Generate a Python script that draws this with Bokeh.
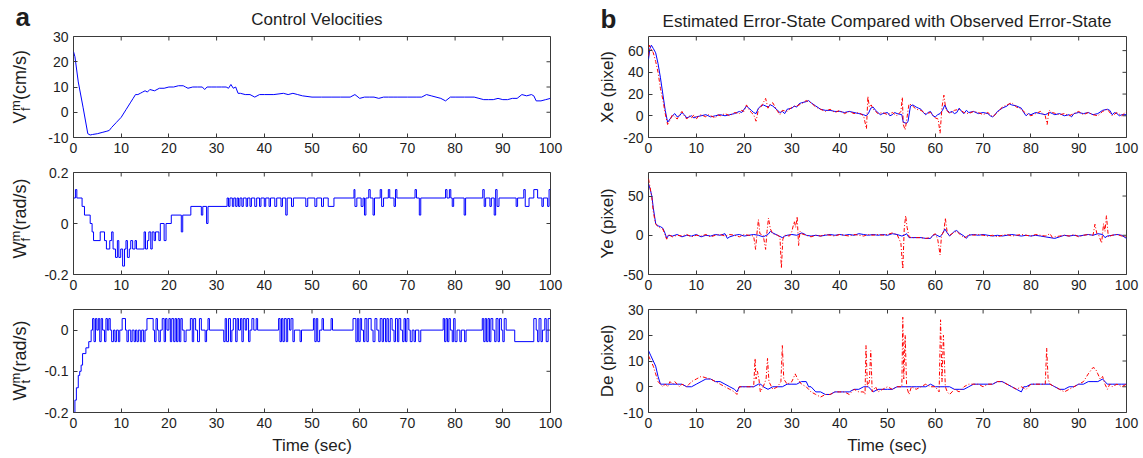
from math import pi
from bokeh.plotting import figure
from bokeh.models import Range1d, FixedTicker, Label
from bokeh.layouts import column, row
from bokeh.embed import file_html
from bokeh.resources import INLINE

# ---------------- data ----------------
TIME_TICKS = [0, 10, 20, 30, 40, 50, 60, 70, 80, 90, 100]
VF_TICKS = [-10, 0, 10, 20, 30]
WF_TICKS = [-0.2, 0, 0.2]
WT_TICKS = [-0.2, -0.1, 0]
XE_TICKS = [-20, 0, 20, 40, 60]
YE_TICKS = [-50, 0, 50]
DE_TICKS = [-10, 0, 10, 20, 30]

# forward control velocity V_f^m (cm/s)
VF = [(0, 24), (0.3, 22), (1, 12), (2, 2), (3, -8.5), (3.5, -9), (4, -8.8), (5, -8.5), (6, -8), (7, -7.5),
      (7.5, -7.2), (8, -6), (9, -4), (10, -2), (11, 1), (12, 4), (12.5, 5.5), (13, 7), (13.5, 7), (14, 7.5),
      (14.5, 8), (15, 8.5), (15.5, 8), (16, 9), (17, 8.5), (18, 9.5), (19, 9.5), (20, 10), (21, 10), (22, 10.5),
      (23, 10.5), (23.5, 10), (24, 9.5), (25, 10), (26, 10), (27, 10), (27.5, 9), (28, 10), (29, 10), (30, 10),
      (31, 10), (32, 10), (32.5, 9.5), (33, 11), (33.5, 9.5), (34, 10), (34.5, 7.5), (35, 7.5), (36, 7), (37, 7),
      (38, 6), (39, 7), (40, 7), (42, 7), (44, 7.5), (45, 7), (46, 7.5), (47, 7), (48, 6.5), (50, 6), (52, 6),
      (54, 6), (56, 6), (58, 6), (59, 7), (60, 5.5), (61, 6), (62, 6), (63, 6), (64, 5.5), (65, 6), (66, 6),
      (67, 6), (68, 6), (70, 6), (72, 6), (73, 6), (74, 7), (75, 6.5), (76, 6), (77, 5.5), (78, 4.5), (79, 6),
      (80, 6), (82, 6), (84, 6), (85, 5.5), (86, 5), (87, 5), (88, 5), (89, 5.5), (90, 5), (91, 5), (92, 5.5),
      (93, 5.5), (94, 7), (95, 6.5), (96, 7), (96.5, 6.5), (97, 4.5), (98, 4.5), (99, 5), (100, 5.5)]

# forward angular velocity W_f^m (rad/s), stair values
WF = [(0, 0.1), (0.4, 0.133), (0.7, 0.1), (1.8, 0.067), (2.3, 0.033), (3.5, 0.0), (3.9, -0.033), (4.2, -0.067),
      (5.6, -0.033), (6.5, -0.067), (6.9, -0.1), (7.6, -0.067), (8.0, -0.033), (8.3, -0.1), (8.8, -0.133),
      (9.2, -0.067), (9.5, -0.133), (9.9, -0.1), (10.3, -0.167), (10.7, -0.1), (11.0, -0.067), (11.3, -0.133),
      (11.7, -0.1), (12.0, -0.067), (12.4, -0.1), (12.9, -0.067), (13.2, -0.1), (14.8, -0.033), (15.1, -0.1),
      (15.5, -0.067), (15.8, -0.033), (16.2, -0.1), (16.5, -0.033), (16.9, -0.067), (17.2, -0.033),
      (17.9, -0.067), (18.2, 0.0), (19.0, -0.067), (19.4, 0.0), (20.5, 0.033), (22.6, -0.033), (22.9, 0.033),
      (24.6, 0.067), (26.8, 0.033), (27.1, 0.067), (27.9, 0.0), (28.2, 0.067), (32.2, 0.1), (32.5, 0.067),
      (32.8, 0.1), (33.3, 0.067), (33.6, 0.1), (34.0, 0.067), (34.3, 0.1), (34.6, 0.067), (34.9, 0.1),
      (35.3, 0.067), (35.6, 0.1), (36.2, 0.067), (36.5, 0.1), (37.0, 0.067), (37.3, 0.1), (38.0, 0.067),
      (38.4, 0.1), (39.0, 0.067), (39.3, 0.1), (40.0, 0.067), (40.3, 0.1), (41.0, 0.067), (41.3, 0.1),
      (42.2, 0.067), (42.6, 0.1), (43.5, 0.067), (43.8, 0.1), (44.5, 0.033), (44.8, 0.1), (45.7, 0.067),
      (46.1, 0.1), (48.7, 0.067), (49.1, 0.1), (50.6, 0.067), (51.0, 0.1), (52.0, 0.067), (52.4, 0.1),
      (53.4, 0.067), (54.6, 0.1), (58.8, 0.133), (59.0, 0.067), (59.4, 0.1), (60.3, 0.067), (60.7, 0.1),
      (61.0, 0.033), (61.3, 0.1), (61.9, 0.133), (62.2, 0.1), (62.8, 0.033), (63.1, 0.1), (64.3, 0.133),
      (64.6, 0.067), (65.0, 0.1), (66.0, 0.133), (66.3, 0.1), (67.2, 0.067), (67.5, 0.133), (67.8, 0.1),
      (71.6, 0.133), (71.9, 0.1), (72.5, 0.033), (72.8, 0.1), (78.0, 0.133), (78.3, 0.1), (78.8, 0.133),
      (79.1, 0.1), (79.4, 0.067), (79.7, 0.1), (81.9, 0.033), (82.2, 0.1), (85.8, 0.133), (86.1, 0.067),
      (86.4, 0.1), (87.3, 0.067), (87.6, 0.1), (88.2, 0.033), (88.5, 0.133), (88.8, 0.067), (89.2, 0.1),
      (92.8, 0.067), (93.1, 0.1), (94.4, 0.133), (94.7, 0.067), (95.5, 0.1), (96.5, 0.133), (97.3, 0.1),
      (98.2, 0.067), (98.5, 0.1), (99.4, 0.067), (99.7, 0.133), (100, 0.133)]

# turning angular velocity W_t^m (rad/s), stair values
WT = [(0, -0.2), (0.3, -0.17), (0.6, -0.14), (1.0, -0.11), (1.3, -0.1), (1.6, -0.085), (1.9, -0.057),
      (2.6, -0.043), (3.2, -0.028), (3.7, 0), (4.0, 0.028), (4.3, -0.028), (4.6, 0.028), (4.9, 0), (5.2, 0.028),
      (5.5, -0.028), (5.8, 0.028), (6.1, 0), (6.5, -0.028), (6.8, 0.028), (7.1, 0), (7.4, 0.028), (7.7, 0),
      (8.0, -0.028), (8.4, 0), (8.7, -0.028), (9.0, 0), (9.4, -0.028), (9.7, 0), (10.2, 0.028), (10.9, 0),
      (11.2, -0.028), (11.5, 0), (12.0, -0.028), (12.3, 0), (12.7, -0.028), (13.0, 0), (13.3, -0.028),
      (13.6, 0), (14.0, -0.028), (14.3, 0), (14.7, -0.028), (15.0, 0), (15.4, 0.028), (16.7, 0), (17.0, -0.028),
      (17.3, 0.028), (17.6, 0), (17.9, -0.028), (18.2, 0), (18.6, 0.028), (19.0, -0.028), (19.3, 0.028),
      (19.6, 0), (20.0, 0.028), (20.3, -0.028), (20.6, 0.028), (21.0, -0.028), (21.3, 0.028), (21.6, -0.028),
      (21.9, 0.028), (22.2, -0.028), (22.5, 0.028), (22.8, 0), (23.2, -0.028), (23.6, 0), (24.5, 0.028),
      (24.9, -0.028), (25.2, 0.028), (25.6, 0), (26.0, -0.028), (26.4, 0.028), (26.8, 0), (27.6, -0.028),
      (27.9, 0), (28.2, 0.028), (28.5, 0), (31.5, -0.028), (31.8, 0.028), (32.1, -0.028), (32.5, 0.028),
      (32.9, -0.028), (33.2, 0), (33.5, 0.028), (34.0, -0.028), (34.3, 0.028), (34.6, 0), (35.0, 0.028),
      (35.3, -0.028), (35.6, 0.028), (36.0, 0), (36.3, 0.028), (36.7, -0.028), (37.0, 0), (37.4, 0.028),
      (37.8, 0), (38.3, 0.028), (38.6, 0), (43.0, 0.028), (43.3, -0.028), (43.6, 0.028), (43.9, -0.028),
      (44.2, 0.028), (44.6, -0.028), (44.9, 0.028), (45.3, 0), (45.6, 0.028), (46.0, -0.028), (46.3, 0),
      (47.5, -0.028), (47.8, 0), (50.3, 0.028), (50.6, -0.028), (50.9, 0.028), (51.2, -0.028), (51.6, 0),
      (52.1, 0.028), (52.4, 0), (54.0, 0.028), (54.3, 0), (58.6, 0.028), (59.2, -0.028), (59.5, 0.028),
      (59.8, -0.028), (60.1, 0.028), (60.4, 0), (60.8, -0.028), (61.1, 0.028), (61.5, -0.028), (61.8, 0.028),
      (62.4, 0), (62.8, -0.028), (63.2, 0.028), (63.6, 0), (64.0, -0.028), (64.3, 0.028), (64.7, -0.028),
      (65.0, 0.028), (65.4, -0.028), (65.7, 0.028), (66.0, -0.028), (66.4, 0.028), (66.8, 0), (67.2, -0.028),
      (67.5, 0.028), (67.9, -0.028), (68.2, 0.028), (68.6, 0), (69.0, -0.028), (69.3, 0.028), (69.6, -0.028),
      (69.9, 0.028), (70.3, 0), (70.6, -0.028), (71.0, 0), (71.4, -0.028), (71.7, 0), (72.4, -0.028), (72.8, 0),
      (77.5, 0.028), (77.8, -0.028), (78.1, 0.028), (78.4, -0.028), (78.7, 0.028), (79.0, 0), (79.4, -0.028),
      (79.7, 0.028), (80.0, -0.028), (80.4, 0), (81.0, -0.028), (81.3, 0), (82.0, -0.028), (82.3, 0),
      (85.7, 0.028), (86.0, -0.028), (86.3, 0.028), (86.6, -0.028), (86.9, 0.028), (87.2, -0.028),
      (87.5, 0.028), (87.9, 0), (88.3, -0.028), (88.6, 0.028), (89.0, -0.028), (89.3, 0.028), (89.7, 0),
      (90.0, -0.028), (90.3, 0.028), (90.7, 0), (92.5, -0.028), (96.5, 0.028), (97.0, 0), (97.3, -0.028),
      (97.6, 0.028), (98.0, -0.028), (98.3, 0), (98.8, 0.028), (99.1, -0.028), (99.5, 0.028), (100, 0.028)]

# Xe (pixel): estimated (blue) and observed (red)
XE_EST = [(0, 52), (0.3, 62), (0.6, 65), (1.0, 62), (1.5, 58), (2.0, 48), (2.5, 35), (3.0, 20), (3.5, 5),
          (4.0, -6), (4.5, -3), (5.0, 0), (5.5, 2), (6.0, -1), (6.5, 0), (7.0, 3), (7.5, 1), (8.0, -2),
          (8.5, -1), (9.0, 0), (9.5, -2), (10, -1), (11, 0), (12, 1), (13, -1), (14, 0), (15, 1), (16, 0),
          (17, 1), (18, 2), (19, 4), (19.5, 3), (20.5, 9), (21, 7), (21.5, 5), (22, 3), (22.5, 2), (23, 7),
          (23.5, 9), (24, 10), (25, 8), (25.5, 10), (26, 9), (27, 5), (27.5, 3), (28, 4), (28.5, 2), (29, 6),
          (30, 7), (30.5, 9), (31, 8), (31.5, 11), (32, 12), (33, 13), (33.5, 14), (34, 12), (35, 9), (36, 6),
          (37, 5), (38, 5), (39, 4), (40, 4), (41, 3), (42, 4), (43, 3), (44, 2), (45, 1), (45.5, 0), (46, 2),
          (46.5, 7), (47, 8), (47.5, 5), (48, 3), (48.5, 1), (49, 2), (50, 3), (50.5, 0), (51, 1), (51.5, 3),
          (52, 2), (53, 1), (53.3, -6), (54, -7), (54.3, -5), (54.8, 9), (55.3, 10), (56, 8), (56.5, 7), (57, 6),
          (57.5, 3), (58, 1), (58.5, 3), (59, 4), (59.5, 0), (60, -1), (60.5, 1), (61, 2), (61.5, 5), (62, 10),
          (62.5, 5), (63, 3), (63.5, 4), (64, 2), (64.5, 3), (65, 7), (65.5, 4), (66, 2), (66.5, 5), (67, 3),
          (68, 4), (69, 2), (70, 3), (71, 2), (71.5, 0), (72, -1), (72.5, 1), (73, 4), (74, 7), (75, 9),
          (75.5, 11), (76, 10), (77, 9), (78, 7), (78.5, 3), (79, 0), (79.5, 2), (80, 1), (81, 3), (82, 2),
          (83, 1), (84, 3), (84.5, 2), (85, 1), (86, 2), (87, 0), (88, 1), (88.5, -1), (89, 2), (90, 3), (91, 2),
          (92, 3), (93, 1), (94, 2), (95, 5), (96, 6), (96.5, 5), (97, 1), (97.5, 3), (98, 2), (98.5, 0),
          (99, 1), (100, 1)]
XE_OBS = [(0, 55), (0.2, 65), (0.5, 62), (1, 58), (1.5, 50), (2, 40), (2.5, 25), (3, 15), (3.5, 2), (4, -8),
          (4.5, -4), (5, 1), (5.5, -1), (6, -3), (6.5, 1), (7, 4), (7.5, 0), (8, -3), (8.5, 0), (9, -2),
          (9.5, 1), (10, -3), (10.5, 0), (11, 1), (12, -1), (12.5, 1), (13, 0), (14, -2), (14.5, 1), (15, 0),
          (16, 2), (17, 0), (18, 3), (19, 2), (19.5, 5), (20, 4), (20.5, 10), (21, 6), (21.5, 3), (22, 1),
          (22.5, -5), (23, 6), (23.5, 8), (24, 12), (24.5, 16), (25, 7), (25.5, 11), (26, 12), (27, 4),
          (27.5, 1), (28, 5), (29, 4), (30, 8), (31, 9), (32, 11), (33, 14), (34, 12), (35, 8), (36, 6), (37, 4),
          (38, 6), (39, 3), (40, 5), (41, 2), (42, 4), (43, 2), (44, 3), (45, 0), (45.6, -12), (45.9, 18),
          (46.2, 8), (46.6, 10), (47, 6), (48, 2), (49, 3), (50, 1), (51, 3), (52, 0), (52.8, 4), (53.1, 17),
          (53.3, -8), (53.7, -13), (54, -4), (54.5, 11), (55, 10), (56, 6), (57, 5), (58, 2), (59, 3), (60, -2),
          (60.6, -3), (61, -16), (61.4, 8), (61.8, 19), (62.2, 6), (63, 2), (64, 5), (65, 6), (66, 3), (67, 2),
          (68, 4), (69, 3), (70, 1), (71, 3), (72, -1), (73, 3), (74, 8), (75, 10), (76, 12), (77, 8), (78, 6),
          (79, 2), (80, 0), (81, 2), (82, 4), (83, 0), (83.4, -8), (83.8, 5), (84.5, 3), (86, 1), (87, 2),
          (88, 0), (89, 2), (90, 4), (91, 1), (92, 3), (93, 1), (94, 0), (95, 4), (96, 6), (97, 0), (98, 3),
          (99, 0), (100, 4)]

# Ye (pixel)
YE_EST = [(0, 65), (0.3, 60), (0.7, 50), (1.0, 35), (1.5, 15), (2, 12), (2.5, 11), (3, 9), (3.5, 2), (3.8, -4),
          (4.2, 0), (5, -1), (6, 1), (7, -2), (8, 0), (9, -1), (10, 1), (11, -2), (12, 0), (13, -1), (14, 1),
          (15, 0), (16, 2), (16.5, -4), (17, -2), (18, 0), (19, 1), (20, -1), (21, 0), (22, 1), (23, 0),
          (24, -2), (25, 1), (25.5, 5), (26, 3), (27, 0), (28, -3), (28.5, -1), (29, 0), (30, 1), (31, 0),
          (32, 3), (32.5, 2), (33, 0), (34, -1), (35, 0), (36, -1), (37, 0), (38, 1), (39, 0), (40, 1), (41, 0),
          (42, 1), (43, 0), (44, 2), (45, 1), (46, 0), (47, 1), (48, 0), (49, 1), (50, 0), (51, 2), (52, 1),
          (53, -1), (53.5, 0), (54, 2), (54.5, -3), (55, -3), (56, -3), (57, -3), (58, -4), (59, -4),
          (59.5, 0), (60, 1), (61, -2), (61.5, 2), (62, 8), (62.5, 3), (63, -1), (63.5, 2), (64, 5), (64.5, 6),
          (65, 3), (66, -1), (66.5, -4), (67, 0), (68, 1), (69, 0), (70, 1), (71, 0), (72, -1), (73, 0),
          (74, -1), (75, 0), (76, 1), (77, 0), (78, -1), (79, 0), (80, -1), (81, 0), (82, -1), (83, -2),
          (84, -3), (85, -4), (86, -2), (87, 0), (88, -1), (89, 0), (90, -1), (91, 0), (92, 1), (93, 0),
          (94, 2), (95, 1), (95.5, -3), (96, -1), (97, 0), (98, 1), (99, 0), (100, -4)]
YE_OBS = [(0, 72), (0.3, 62), (0.7, 48), (1.0, 30), (1.5, 14), (2, 11), (2.5, 9), (3, 8), (3.5, 0), (3.8, -5),
          (4.2, 1), (5, -2), (6, 0), (7, -1), (8, 1), (9, -2), (10, 0), (11, -1), (12, 1), (13, -2), (14, 0),
          (15, 1), (16, -1), (17, 1), (18, 0), (19, -2), (20, 1), (21, 0), (22, -1), (22.4, -18), (22.7, 3),
          (23, 20), (23.3, 2), (24, 0), (24.5, -18), (24.8, 5), (25.1, 22), (25.5, 8), (26, 2), (27, 0),
          (27.5, -2), (27.8, -42), (28.1, -5), (28.5, 0), (29.5, -1), (30, 5), (30.5, 18), (30.8, 10),
          (31.1, 24), (31.4, -13), (31.7, 5), (32, 2), (33, 0), (34, -2), (35, 0), (36, -1), (37, 1), (38, 0),
          (39, -1), (40, 1), (41, 0), (42, -1), (43, 1), (44, 0), (45, -1), (46, 1), (47, 0), (48, 1), (49, 0),
          (50, 1), (51, 3), (52, 1), (52.8, -10), (53.2, -43), (53.5, 8), (53.8, 25), (54.1, 10), (54.5, -2),
          (55, -3), (56, -3), (57, -3), (58, -4), (59, -3), (59.5, 0), (60, 2), (60.5, -5), (61, -25),
          (61.3, 0), (61.8, 5), (62.1, 22), (62.5, 3), (63, 0), (64, 4), (64.5, 5), (65, 2), (66, -3),
          (66.5, -2), (67, 1), (68, 0), (69, 1), (70, 0), (71, -1), (72, 0), (73, -2), (74, 0), (75, 1),
          (76, -1), (77, 0), (78, 1), (79, 0), (80, -1), (81, 1), (82, 0), (83, -1), (84, 2), (84.5, -3),
          (85, -2), (86, -1), (87, 0), (88, -1), (89, 1), (90, -2), (91, 0), (92, 1), (93, 0), (93.4, 14),
          (93.8, 2), (94.2, 0), (94.8, -10), (95.2, 15), (95.5, 5), (95.8, 25), (96.2, -2), (97, 0), (98, 1),
          (99, -1), (100, -2)]

# De (pixel)
DE_EST = [(0, 14), (0.5, 12), (1, 10), (1.5, 8), (2, 4), (2.5, 1), (3, 1), (4, 1), (5, 1), (6, 1), (7, 1),
          (8, 0), (9, 0), (10, 1), (11, 2), (12, 3), (13, 3), (14, 2), (15, 2), (16, 1), (17, 0), (18, -1),
          (18.5, -2), (19, 0), (20, 0), (21, 0), (22, 0), (23, 1), (23.5, 1), (24, 0), (25, -1), (26, 0),
          (27, 0), (28, 0), (29, 1), (30, 1), (31, 1), (32, 2), (33, 2), (33.5, 0), (34, 0), (35, -2), (36, -2),
          (37, -3), (38, -3), (39, -2), (40, -2), (41, -2), (42, -2), (43, -1), (44, -1), (45, 0), (46, 0),
          (47, -2), (48, -1), (49, -1), (50, -1), (51, -1), (52, 0), (53, 0), (54, 0), (55, 0), (56, 0), (57, 0),
          (58, 0), (59, 1), (60, 0), (61, 0), (62, 0), (63, 0), (64, -1), (65, -1), (66, -1), (67, 0), (68, 1),
          (69, 1), (70, 1), (71, 1), (72, 1), (73, 2), (74, 2), (75, 1), (76, 0), (77, -1), (78, -2), (78.5, 0),
          (79, 0), (80, 1), (81, 1), (82, 1), (83, 1), (84, 1), (85, 0), (86, -1), (87, -1), (88, 0), (89, 0),
          (90, 1), (91, 1), (92, 2), (93, 2), (94, 2), (95, 3), (96, 1), (97, 1), (98, 1), (99, 1), (100, 1)]
DE_OBS = [(0, 12), (0.5, 10), (1, 8), (1.5, 5), (2, 2), (2.5, 1), (3, 0), (3.5, 1), (4, 0), (4.5, 2), (5, 1),
          (5.5, 2), (6, 1), (6.5, 0), (7, 1), (8, 0), (8.5, 1), (9, 2), (10, 3), (11, 4), (12, 3.5), (13, 3),
          (14, 2), (15, 1), (16, 0), (17, -1), (18, -2), (18.5, -3), (19, 0), (20, 0), (21, 0), (22, 0),
          (22.3, 11), (22.5, 3), (22.8, 6), (23.1, 3), (23.4, -2), (24, 0), (24.6, 3), (24.9, 11), (25.2, 2),
          (26, -1), (27, 0), (27.7, 2), (28, 16), (28.3, 3), (29, 1), (30, 2), (30.7, 5), (31.2, 3), (32, 1),
          (33, 0), (34, -2), (35, -3), (36, -4), (37, -3), (38, -3), (39, -2), (40, -2), (41, -2), (42, -3),
          (43, -1), (44, -2), (45, -2), (45.3, -3), (45.5, 16), (45.8, 0), (46.2, 2), (46.5, 14), (46.8, -2),
          (47.5, 0), (48, -2), (49, -1), (50, 0), (51, -1), (52, 0), (53, 0), (53.2, 27), (53.4, 3), (53.7, 20),
          (54, 0), (54.5, -3), (55, 0), (56, -1), (57, 0), (58, 1), (59, 0), (60, 0), (60.8, -2), (61.1, 26),
          (61.4, 2), (61.7, 20), (62.1, 0), (62.5, -2), (63, -3), (64, -1), (65, -2), (66, 0), (67, 1), (68, 1),
          (69, 1), (70, 0), (71, 1), (72, 1), (73, 2), (74, 2), (75, 1), (76, 0), (77, -1), (78, 0), (79, -1),
          (80, 1), (81, 1), (82, 1), (83, 1), (83.3, 15), (83.6, 3), (84, 1), (85, 0), (86, -1), (87, -2),
          (88, -1), (89, 0), (90, 1), (91, 2), (92, 5), (93, 7.5), (93.5, 7), (94, 5), (94.5, 3), (95, 4),
          (95.5, 1), (96, -1), (96.5, 1), (97, 0), (98, 1), (99, 0), (100, 1)]

# ---------------- styling / layout ----------------
FONT = "Liberation Sans"
INK = "#1e1e1e"
FRAME = "#3a3a3a"
BLUE = "#0000ff"
RED = "#ff0000"
TICK_FS = "14px"
LAB_FS = 17
ALAB_FS = 18
TICK_LEN = 4
BASE_SHIFT = 0.32   # measured offset of Bokeh's alphabetic baseline, in em

W_PAGE, H_PAGE = 1143, 458
BOT_H = 24
# column a block
LEFT_W = 40
A_L, A_W, A_R = 33, 477, 22
A_TOP_H = 28
A_ROWS = [(8, 101, 22), (13, 102, 22), (13, 103, 22)]
# column b block
GAP_W = 48
B_L, B_W, B_R = 27, 479, 17
B_TOP_H = 34
B_ROWS = [(2, 101, 22), (13, 102, 22), (13, 103, 22)]

A_BLOCK_W = LEFT_W + A_L + A_W + A_R          # 572
B_BLOCK_W = GAP_W + B_L + B_W + B_R           # 571
A_X0 = LEFT_W + A_L                           # 73
B_X0 = A_BLOCK_W + GAP_W + B_L                # 647
B_ROW_TOP = [B_TOP_H + B_ROWS[0][0],
             B_TOP_H + sum(B_ROWS[0]) + B_ROWS[1][0],
             B_TOP_H + sum(B_ROWS[0]) + sum(B_ROWS[1]) + B_ROWS[2][0]]


def fmt(v):
    return "%g" % v


def style_axis(ax, ticks):
    ax.ticker = FixedTicker(ticks=ticks)
    ax.axis_line_color = None
    ax.major_tick_in = TICK_LEN
    ax.major_tick_out = 0
    ax.major_tick_line_color = FRAME
    ax.minor_tick_line_color = None
    ax.major_label_standoff = 5
    ax.major_label_text_font = FONT
    ax.major_label_text_font_size = TICK_FS
    ax.major_label_text_color = INK
    ax.major_label_overrides = {t: fmt(t) for t in ticks}


def panel(col, r, yr, yticks):
    top, fh, bot = (A_ROWS if col == 0 else B_ROWS)[r]
    L, W, R = (A_L, A_W, A_R) if col == 0 else (B_L, B_W, B_R)
    p = figure(width=L + W + R, height=top + fh + bot,
               x_range=Range1d(0, 100), y_range=Range1d(*yr),
               output_backend="svg", toolbar_location=None,
               min_border_left=L, min_border_right=R,
               min_border_top=top, min_border_bottom=bot)
    p.grid.visible = False
    p.outline_line_color = FRAME
    p.outline_line_width = 1
    p.background_fill_color = "white"
    p.border_fill_color = "white"
    style_axis(p.xaxis[0], TIME_TICKS)
    style_axis(p.yaxis[0], yticks)
    dy = (yr[1] - yr[0]) * TICK_LEN / fh
    dx = 100.0 * TICK_LEN / W
    p.segment(x0=TIME_TICKS, y0=[yr[1]] * len(TIME_TICKS), x1=TIME_TICKS,
              y1=[yr[1] - dy] * len(TIME_TICKS), line_color=FRAME, line_width=1)
    p.segment(x0=[100] * len(yticks), y0=yticks, x1=[100 - dx] * len(yticks), y1=yticks,
              line_color=FRAME, line_width=1)
    return p


def text_fig(w, h):
    f = figure(width=w, height=h, x_range=Range1d(0, w), y_range=Range1d(h, 0),
               output_backend="svg", toolbar_location=None, x_axis_type=None, y_axis_type=None,
               min_border=0, min_border_left=0, min_border_right=0, min_border_top=0, min_border_bottom=0)
    f.grid.visible = False
    f.outline_line_color = None
    f.background_fill_color = "white"
    f.border_fill_color = "white"
    return f


def put(f, ox, oy, cx, cy, text, size, angle=0.0, align="left", bold=False):
    """cx, cy: page position of the text baseline anchor; ox, oy: page origin of strip f."""
    corr = BASE_SHIFT * size
    if angle == 0.0:
        cy -= corr
    else:
        cx -= corr
    f.add_layout(Label(x=cx - ox, y=cy - oy, text=text, angle=angle, text_align=align,
                       text_baseline="alphabetic", text_font=FONT, text_font_size=f"{size}px",
                       text_color=INK, text_font_style="bold" if bold else "normal"))


def series(p, data, color, dash=None, step=False):
    xs = [d[0] for d in data]
    ys = [d[1] for d in data]
    if step:
        p.step(xs, ys, mode="after", line_color=color, line_width=1)
    elif dash:
        p.line(xs, ys, line_color=color, line_width=1, line_dash=dash)
    else:
        p.line(xs, ys, line_color=color, line_width=1)


# ---- column a ----
a1 = panel(0, 0, (-10, 30), VF_TICKS)
series(a1, VF, BLUE)
a2 = panel(0, 1, (-0.2, 0.2), WF_TICKS)
series(a2, WF, BLUE, step=True)
a3 = panel(0, 2, (-0.2, 0.05), WT_TICKS)
series(a3, WT, BLUE, step=True)

# ---- column b ----
b1 = panel(1, 0, (-20, 73), XE_TICKS)
series(b1, XE_EST, BLUE)
series(b1, XE_OBS, RED, dash="4 2 1 2")
b2 = panel(1, 1, (-50, 80), YE_TICKS)
series(b2, YE_EST, BLUE)
series(b2, YE_OBS, RED, dash="4 2 1 2")
b3 = panel(1, 2, (-10, 30), DE_TICKS)
series(b3, DE_EST, BLUE)
series(b3, DE_OBS, RED, dash="4 2 1 2")

# ---- text strips, column a ----
A_MID_H = H_PAGE - BOT_H                       # 434, left strip runs from the top
left = text_fig(LEFT_W, A_MID_H)
put(left, 0, 0, 15, 25, "a", 26, bold=True)


def ylab_math(f, ox, oy, bx, y0, main, wmain, sup, sub, rest):
    put(f, ox, oy, bx, y0, main, ALAB_FS, angle=pi / 2)
    put(f, ox, oy, bx - 6, y0 - wmain, sup, 13, angle=pi / 2)
    put(f, ox, oy, bx + 4, y0 - wmain, sub, 13, angle=pi / 2)
    put(f, ox, oy, bx, y0 - wmain - 11, rest, ALAB_FS, angle=pi / 2)


ylab_math(left, 0, 0, 25, 123, "V", 12.5, "m", "f", " (cm/s)")
ylab_math(left, 0, 0, 25, 258, "W", 17, "m", "f", " (rad/s)")
ylab_math(left, 0, 0, 25, 400, "W", 17, "m", "t", " (rad/s)")

top_a = text_fig(A_BLOCK_W - LEFT_W, A_TOP_H)
put(top_a, LEFT_W, 0, A_X0 + A_W / 2, 24, "Control Velocities", LAB_FS, align="center")

bottom_a = text_fig(A_BLOCK_W, BOT_H)
put(bottom_a, 0, H_PAGE - BOT_H, A_X0 + A_W / 2, 450, "Time (sec)", LAB_FS, align="center")

# ---- text strips, column b ----
top_b = text_fig(B_BLOCK_W, B_TOP_H)
put(top_b, A_BLOCK_W, 0, 600, 27, "b", 26, bold=True)
put(top_b, A_BLOCK_W, 0, B_X0 + B_W / 2, 26, "Estimated Error-State Compared with Observed Error-State",
    LAB_FS, align="center")

gap = text_fig(GAP_W, H_PAGE - B_TOP_H - BOT_H)
for txt, r in (("Xe (pixel)", 0), ("Ye (pixel)", 1), ("De (pixel)", 2)):
    put(gap, A_BLOCK_W, B_TOP_H, 612, B_ROW_TOP[r] + B_ROWS[r][1] / 2, txt, LAB_FS,
        angle=pi / 2, align="center")

bottom_b = text_fig(B_BLOCK_W, BOT_H)
put(bottom_b, A_BLOCK_W, H_PAGE - BOT_H, B_X0 + B_W / 2, 450, "Time (sec)", LAB_FS, align="center")

block_a = column(row(left, column(top_a, a1, a2, a3)), bottom_a)
block_b = column(top_b, row(gap, column(b1, b2, b3)), bottom_b)
layout = row(block_a, block_b)
open("out.html", "w").write(file_html(layout, INLINE))
